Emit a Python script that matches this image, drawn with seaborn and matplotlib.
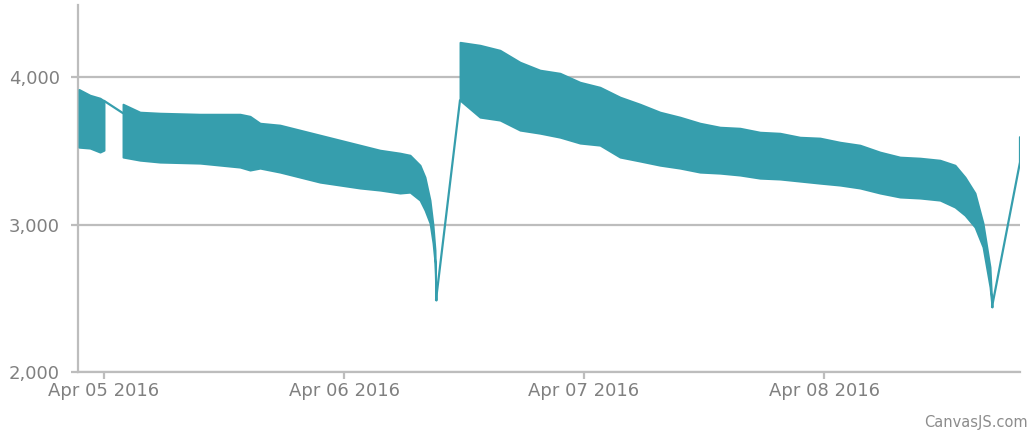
import matplotlib
matplotlib.use("Agg")
import matplotlib.pyplot as plt
import matplotlib.dates as mdates
import numpy as np
import pandas as pd
import seaborn as sns

# ---- data (hours after Apr 05 2016 00:00) ----
BASE = pd.Timestamp("2016-04-05")

seg_a_hours = [-2.5, -1.4, -0.4, 0.0]
seg_a_upper = [3917, 3878, 3858, 3840]
seg_a_lower = [3525, 3519, 3492, 3505]

seg_b_hours = [1.9, 3.6, 5.6, 9.6, 13.6, 14.6, 15.6, 17.6, 19.6, 21.6, 23.6,
               25.6, 27.6, 29.6, 30.6, 31.6, 32.1, 32.6, 32.9, 33.1, 33.2]
seg_b_upper = [3817, 3763, 3756, 3749, 3749, 3735, 3688, 3675, 3641, 3607, 3573,
               3539, 3505, 3485, 3471, 3403, 3322, 3166, 2997, 2827, 2488]
seg_b_lower = [3458, 3437, 3424, 3417, 3390, 3370, 3383, 3356, 3322, 3288, 3268,
               3248, 3234, 3214, 3220, 3166, 3098, 3010, 2875, 2739, 2488]

seg_c_hours = [35.6, 37.6, 39.6, 41.6, 43.6, 45.6, 47.6, 49.6, 51.6, 53.6, 55.6,
               57.6, 59.6, 61.6, 63.6, 65.6, 67.6, 69.6, 71.6, 73.6, 75.6, 77.6,
               79.6, 81.6, 83.6, 85.1, 86.1, 87.1, 87.9, 88.6, 88.8]
seg_c_upper = [4237, 4217, 4183, 4102, 4048, 4027, 3966, 3932, 3865, 3817, 3763,
               3729, 3688, 3661, 3654, 3627, 3620, 3593, 3587, 3559, 3539, 3492,
               3458, 3451, 3437, 3403, 3322, 3214, 3010, 2712, 2441]
seg_c_lower = [3844, 3729, 3709, 3641, 3620, 3593, 3553, 3539, 3458, 3431, 3403,
               3383, 3356, 3349, 3336, 3315, 3309, 3295, 3281, 3268, 3248, 3214,
               3187, 3180, 3166, 3119, 3064, 2983, 2848, 2576, 2441]

gap_1_hours = [0.0, 1.9]
gap_1_values = [3840, 3756]
gap_2_hours = [33.2, 35.6]
gap_2_values = [2488, 3844]
gap_3_hours = [88.8, 91.6, 91.6]
gap_3_values = [2441, 3424, 3593]

x_tick_days = ["2016-04-05", "2016-04-06", "2016-04-07", "2016-04-08"]
y_ticks = [2000, 3000, 4000]


def to_time(hours):
    return BASE + pd.to_timedelta(np.asarray(hours, dtype=float), unit="h")


# ---- style ----
sns.set_theme(style="white")
plt.rcParams["font.family"] = ["DejaVu Sans"]

COLOR = "#369EAD"
GRID = "#BDBDBD"
LABEL = "#808080"

fig = plt.figure(figsize=(10.33, 4.32), dpi=100)
ax = fig.add_axes([78 / 1033, 1 - 372 / 432, (1020 - 78) / 1033, (372 - 5) / 432])

for hrs, up, lo in [(seg_a_hours, seg_a_upper, seg_a_lower),
                    (seg_b_hours, seg_b_upper, seg_b_lower),
                    (seg_c_hours, seg_c_upper, seg_c_lower)]:
    t = to_time(hrs)
    ax.fill_between(t, lo, up, color=COLOR, linewidth=1.4, edgecolor=COLOR, zorder=3)

for hrs, vals in [(gap_1_hours, gap_1_values), (gap_2_hours, gap_2_values),
                  (gap_3_hours, gap_3_values)]:
    sns.lineplot(x=to_time(hrs), y=vals, color=COLOR, linewidth=1.6,
                 estimator=None, sort=False, ax=ax, zorder=3)

ax.set_xlim(to_time([-2.6])[0], to_time([91.6])[0])
ax.set_ylim(2000, 4490)
ax.set_yticks(y_ticks)
ax.set_yticklabels([f"{v:,}" for v in y_ticks])
ax.set_xticks(pd.to_datetime(x_tick_days))
ax.xaxis.set_major_formatter(mdates.DateFormatter("%b %d %Y"))

ax.grid(axis="y", color=GRID, linewidth=1.6, zorder=1)
ax.grid(axis="x", visible=False)
for side in ["top", "right"]:
    ax.spines[side].set_visible(False)
for side in ["left", "bottom"]:
    ax.spines[side].set_color(GRID)
    ax.spines[side].set_linewidth(1.6)

ax.tick_params(axis="both", which="major", length=5, width=1.6, color=GRID,
               labelcolor=LABEL, labelsize=13)
ax.tick_params(axis="y", pad=8, left=True)
ax.tick_params(axis="x", pad=2, bottom=True)
ax.set_xlabel("")
ax.set_ylabel("")

fig.text(1028 / 1033, 1 - 423 / 432, "CanvasJS.com", ha="right", va="center",
         fontsize=10.5, color="#8c8c8c", family=["DejaVu Sans"])

fig.savefig("out.png", dpi=100)
